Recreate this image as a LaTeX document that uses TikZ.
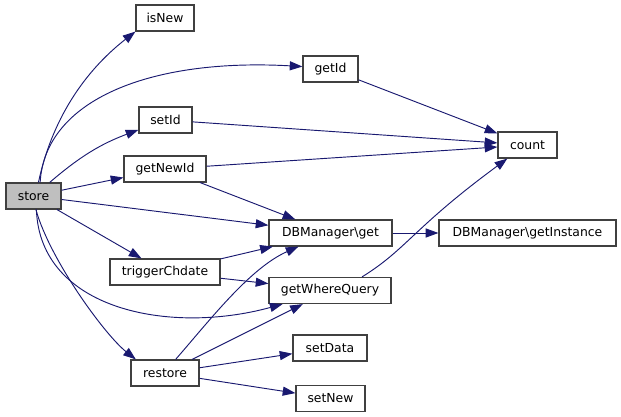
\documentclass[tikz,border=0pt]{standalone}
\usepackage{fontspec}
\setmainfont{DejaVu Sans}
\usetikzlibrary{arrows.meta}
\definecolor{edgecol}{HTML}{191970}
\definecolor{boxline}{HTML}{404040}
\tikzset{
  box/.style={draw=boxline, line width=0.9pt, fill=white, inner sep=0pt,
    minimum height=19.5pt, font=\fontsize{9.3}{11}\selectfont},
  bw/.style={minimum width=#1*0.75pt},
  edge/.style={draw=edgecol, line width=0.7pt, -{Triangle[length=9.5pt,width=6.8pt]}},
}
\begin{document}
\begin{tikzpicture}[x=0.75pt,y=-0.75pt]
\useasboundingbox (0,0) rectangle (621,417);
\node[box,bw=55,fill=black!25] (store) at (33.5,196) {store};
\node[box,bw=58] (isNew) at (165,18) {isNew};
\node[box,bw=55] (getId) at (330.5,69) {getId};
\node[box,bw=53] (setId) at (165.5,120) {setId};
\node[box,bw=82] (getNewId) at (165,169) {getNewId};
\node[box,bw=59] (count) at (527.5,145) {count};
\node[box,bw=123] (dbget) at (330.5,233) {DBManager\textbackslash get};
\node[box,bw=177] (dbinst) at (527.5,233) {DBManager\textbackslash getInstance};
\node[box,bw=110] (trig) at (165,272) {triggerChdate};
\node[box,bw=122] (gwq) at (330,290.5) {getWhereQuery};
\node[box,bw=74] (setData) at (330,348) {setData};
\node[box,bw=68] (restore) at (165,373) {restore};
\node[box,bw=69] (setNew) at (330.5,398.5) {setNew};

\draw[edge] (store.70) .. controls +(15,-70) and +(-45,35) .. (isNew.south west);
\draw[edge] (store.64) .. controls (45,100) and (150,58) .. (getId.175);
\draw[edge] (store) to[bend left=10] (setId);
\draw[edge] (store) -- (getNewId);
\draw[edge] (store) -- (dbget);
\draw[edge] (store) -- (trig);
\draw[edge] (store.-78) .. controls (40,310) and (170,335) .. (gwq.196);
\draw[edge] (store.-80) .. controls (50,260) and (105,335) .. (restore.155);
\draw[edge] (getId) -- (count);
\draw[edge] (setId) -- (count);
\draw[edge] (getNewId) -- (count);
\draw[edge] (getNewId) -- (dbget);
\draw[edge] (dbget) -- (dbinst);
\draw[edge] (gwq.23) .. controls (407,249) and (413,228) .. (count.214);
\draw[edge] (trig) -- (dbget);
\draw[edge] (trig) -- (gwq);
\draw[edge] (restore.52) .. controls (210,320) and (250,268) .. (dbget.203);
\draw[edge] (restore) -- (gwq);
\draw[edge] (restore) -- (setData);
\draw[edge] (restore) -- (setNew);
\end{tikzpicture}
\end{document}
